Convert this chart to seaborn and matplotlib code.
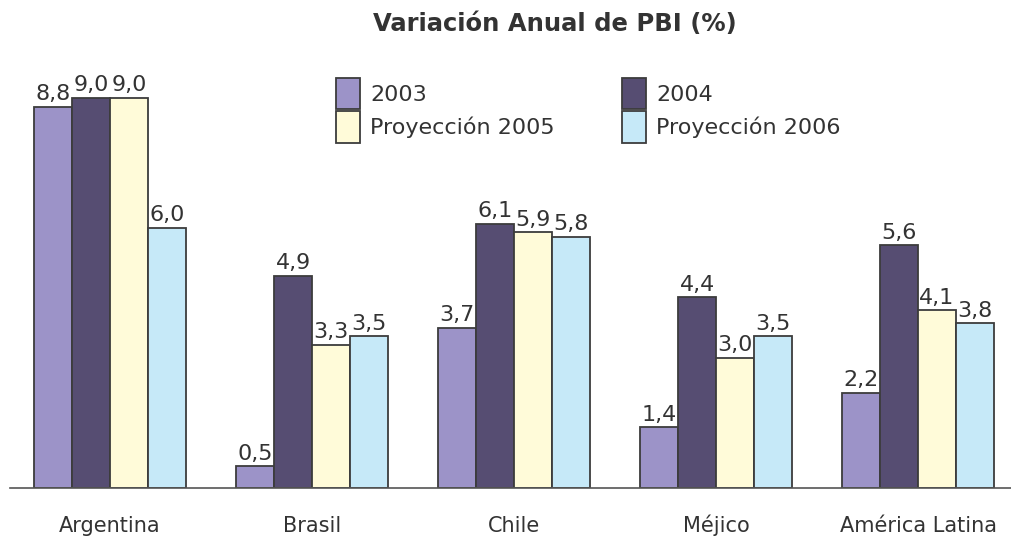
import matplotlib
matplotlib.use("Agg")
import matplotlib.pyplot as plt
import seaborn as sns
import pandas as pd

paises = ["Argentina", "Brasil", "Chile", "Méjico", "América Latina"]
series = ["2003", "2004", "Proyección 2005", "Proyección 2006"]
v2003 = [8.8, 0.5, 3.7, 1.4, 2.2]
v2004 = [9.0, 4.9, 6.1, 4.4, 5.6]
v2005 = [9.0, 3.3, 5.9, 3.0, 4.1]
v2006 = [6.0, 3.5, 5.8, 3.5, 3.8]
colores = ["#9C93C8", "#564D72", "#FFFBD9", "#C6E9F8"]

rows = []
for s, vals in zip(series, [v2003, v2004, v2005, v2006]):
    for p, v in zip(paises, vals):
        rows.append({"pais": p, "serie": s, "valor": v})
df = pd.DataFrame(rows)

sns.set_style("white")
plt.rcParams["font.family"] = ["DejaVu Sans"]

fig = plt.figure(figsize=(10.11, 5.42), dpi=100)
ax = fig.add_axes([10 / 1011, 54 / 542, 1001 / 1011, 428 / 542])

sns.barplot(data=df, x="pais", y="valor", hue="serie", palette=colores, saturation=1,
            edgecolor="#3c3c3c", linewidth=1.3, width=0.75, ax=ax)

for cont in ax.containers:
    ax.bar_label(cont, labels=[f"{b.get_height():.1f}".replace(".", ",") for b in cont],
                 padding=2, fontsize=16, color="#333333")

ax.set_xlim(-0.495, 4.46)
ax.set_ylim(0, 9.88)
ax.set_xlabel("")
ax.set_ylabel("")
ax.set_yticks([])
for side in ["left", "right", "top"]:
    ax.spines[side].set_visible(False)
ax.spines["bottom"].set_color("#555555")
ax.spines["bottom"].set_linewidth(1.2)
ax.tick_params(axis="x", length=0, pad=32, labelcolor="#333333")
for lbl in ax.get_xticklabels():
    lbl.set_fontsize(15)
    lbl.set_verticalalignment("baseline")

handles, labels = ax.get_legend_handles_labels()
order = [0, 2, 1, 3]
ax.legend([handles[i] for i in order], [labels[i] for i in order], ncol=2,
          loc="upper left", bbox_to_anchor=(336 / 1011, 1 - 78 / 542),
          bbox_transform=fig.transFigure, frameon=False, fontsize=16,
          handlelength=1.1, handleheight=1.8, labelspacing=0.08,
          handletextpad=0.45, columnspacing=3.0, borderpad=0, borderaxespad=0,
          labelcolor="#333333")

fig.text(555 / 1011, 1 - 24 / 542, "Variación Anual de PBI (%)", ha="center", va="center",
         fontsize=17.5, fontweight="bold", color="#333333")

fig.savefig("out.png", dpi=100)
